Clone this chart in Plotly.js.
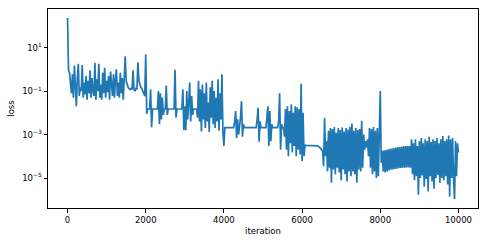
<!DOCTYPE html>
<html>
<head>
<meta charset="utf-8">
<script src="https://cdn.plot.ly/plotly-3.0.1.min.js"></script>
<style>html,body{margin:0;padding:0;background:#fff;}#chart{width:488px;height:244px;}</style>
</head>
<body>
<div id="chart"></div>
<script>
const STEP = 25;
const loss0to2000 = [
  230, 0.9, 0.7, 0.3, 0.08, 0.6, 0.05, 1.5, 0.12, 0.02,
  0.4, 1.8, 0.06, 0.15, 0.1, 1.6, 0.05, 0.25, 0.07, 0.5,
  0.04, 0.3, 0.08, 0.9, 0.05, 0.4, 0.1, 0.06, 2.0, 0.04,
  0.35, 0.1, 1.8, 0.05, 0.2, 0.04, 0.7, 0.08, 1.2, 0.05,
  0.3, 0.09, 0.5, 0.04, 0.8, 0.1, 0.06, 0.6, 0.05, 0.35,
  1.0, 0.06, 0.25, 0.05, 0.7, 0.08, 0.4, 0.04, 0.3, 4.0,
  0.3, 0.2, 0.15, 0.13, 0.12, 0.13, 0.12, 0.9, 0.12, 0.1,
  0.13, 0.12, 2.1, 0.3, 0.2, 0.15, 0.13, 0.1, 0.08, 0.06
];
const loss2000to4000 = [
  5, 0.009, 0.015, 0.015, 0.015, 0.12, 0.0022, 0.015, 0.015, 0.014,
  0.015, 0.015, 0.015, 0.1, 0.003, 0.08, 0.005, 0.05, 0.008, 0.015,
  0.015, 0.18, 0.008, 0.015, 0.015, 0.015, 0.015, 0.015, 0.015, 0.015,
  0.95, 0.006, 0.015, 0.015, 0.015, 0.015, 0.015, 0.015, 0.12, 0.0016,
  0.02, 0.0016, 0.1, 0.005, 0.03, 0.25, 0.004, 0.06, 0.008, 0.015,
  0.015, 0.015, 0.015, 0.006, 0.3, 0.004, 0.12, 0.0014, 0.2, 0.005,
  0.08, 0.002, 0.25, 0.004, 0.03, 0.0013, 0.15, 0.006, 0.3, 0.003,
  0.1, 0.002, 0.05, 0.004, 0.35, 0.0015, 0.08, 0.005, 0.6, 0.0013
];
const loss4000to6000 = [
  0.0003, 0.0021, 0.0021, 0.0021, 0.0021, 0.0021, 0.0021, 0.0021, 0.0021, 0.0021,
  0.0021, 0.004, 0.012, 0.0007, 0.005, 0.001, 0.0021, 0.006, 0.035, 0.0008,
  0.003, 0.0021, 0.0021, 0.0021, 0.0021, 0.0021, 0.0021, 0.0021, 0.0021, 0.0021,
  0.0021, 0.0021, 0.0021, 0.0021, 0.005, 0.017, 0.00047, 0.004, 0.0021, 0.0021,
  0.0021, 0.0021, 0.0021, 0.0021, 0.006, 0.02, 0.0003, 0.012, 0.0005, 0.003,
  0.0021, 0.0021, 0.0021, 0.0021, 0.0021, 0.0021, 0.004, 0.08, 0.0002, 0.003,
  0.0021, 0.0021, 0.0008, 0.015, 0.0002, 0.02, 0.0001, 0.012, 0.0004, 0.025,
  0.00015, 0.01, 0.0003, 0.02, 0.0001, 0.018, 0.0002, 0.015, 0.00012, 0.22
];
const loss6000to8000 = [
  0.00006, 0.01, 0.0001, 0.00033, 0.00032, 0.00032, 0.00032, 0.00032, 0.00032, 0.00032,
  0.00032, 0.00032, 0.00032, 0.00031, 0.00031, 0.00031, 0.0003, 0.00028, 0.00026, 0.00023,
  0.0002, 0.00017, 0.000035, 0.006, 0.0001, 0.0005, 0.00002, 0.0015, 0.00003, 0.002,
  0.000006, 0.0018, 0.000025, 0.0022, 0.000015, 0.0012, 0.00003, 0.002, 0.000018, 0.0016,
  0.000008, 0.0021, 0.000025, 0.0014, 0.000015, 0.002, 0.000007, 0.0017, 0.00002, 0.0023,
  0.000012, 0.0032, 0.00002, 0.0015, 0.000015, 0.002, 0.000006, 0.0016, 0.000025, 0.0018,
  0.00002, 0.0043, 0.00003, 0.001, 0.0002, 0.0005, 0.00025, 0.0006, 0.0001, 0.002,
  0.00003, 0.0018, 0.000015, 0.0022, 0.00002, 0.0015, 0.00001, 0.002, 0.000012, 0.0017
];
const loss8000to10000 = [
  0.1, 0.00005, 0.00018, 0.00002, 0.00019, 0.000018, 0.0002, 0.00002, 0.00021, 0.000022,
  0.00022, 0.000024, 0.00023, 0.000025, 0.00024, 0.000026, 0.00025, 0.000027, 0.00026, 0.000028,
  0.00027, 0.000029, 0.00028, 0.00003, 0.00029, 0.00003, 0.0003, 0.000031, 0.0003, 0.000031,
  0.0003, 0.00003, 0.0006, 0.000015, 0.0004, 0.000008, 0.0006, 0.000012, 0.0003, 0.0000017,
  0.0005, 0.00001, 0.0007, 0.000013, 0.0004, 0.000004, 0.0006, 0.000009, 0.0005, 0.0000024,
  0.0008, 0.000012, 0.00045, 0.000007, 0.0006, 0.0000032, 0.0005, 0.00001, 0.0007, 0.000014,
  0.0004, 0.000006, 0.0006, 0.00001, 0.00085, 0.000008, 0.0005, 0.000012, 0.0006, 0.000005,
  0.0009, 0.0000014, 0.0006, 0.00001, 0.0007, 0.000009, 0.00000107, 0.0005, 0.000012, 0.0004,
  0.00015
];
const yTickVals = [10, 0.1, 0.001, 0.00001];
const yTickText = ['10<sup>1</sup>', '10<sup>\u22121</sup>', '10<sup>\u22123</sup>', '10<sup>\u22125</sup>'];
const xTickVals = [0, 2000, 4000, 6000, 8000, 10000];
const xTickText = ['0', '2000', '4000', '6000', '8000', '10000'];

const loss = [].concat(loss0to2000, loss2000to4000, loss4000to6000, loss6000to8000, loss8000to10000);
const iteration = loss.map((_, i) => i * STEP);

const font = {family: 'DejaVu Sans', size: 8.5, color: '#000'};
Plotly.newPlot('chart', [{
  x: iteration, y: loss, type: 'scatter', mode: 'lines',
  line: {color: '#1f77b4', width: 1.7}, hoverinfo: 'skip'
}], {
  width: 488, height: 244,
  margin: {l: 48, r: 10, t: 9, b: 36},
  paper_bgcolor: '#fff', plot_bgcolor: '#fff',
  showlegend: false, font: font,
  xaxis: {
    range: [-500, 10500], tickvals: xTickVals, ticktext: xTickText, ticks: 'outside', ticklen: 3.5, tickwidth: 1,
    tickcolor: '#000', showline: true, linecolor: '#000', linewidth: 1, mirror: true,
    showgrid: false, zeroline: false, tickfont: font,
    title: {text: 'iteration', font: font, standoff: 4}
  },
  yaxis: {
    type: 'log', range: [-6.38, 2.78], tickvals: yTickVals, ticktext: yTickText,
    ticks: 'outside', ticklen: 3.5, tickwidth: 1, tickcolor: '#000',
    showline: true, linecolor: '#000', linewidth: 1, mirror: true,
    showgrid: false, zeroline: false, tickfont: font,
    title: {text: 'loss', font: font, standoff: 6}
  }
}, {staticPlot: true, displayModeBar: false});
</script>
</body>
</html>
